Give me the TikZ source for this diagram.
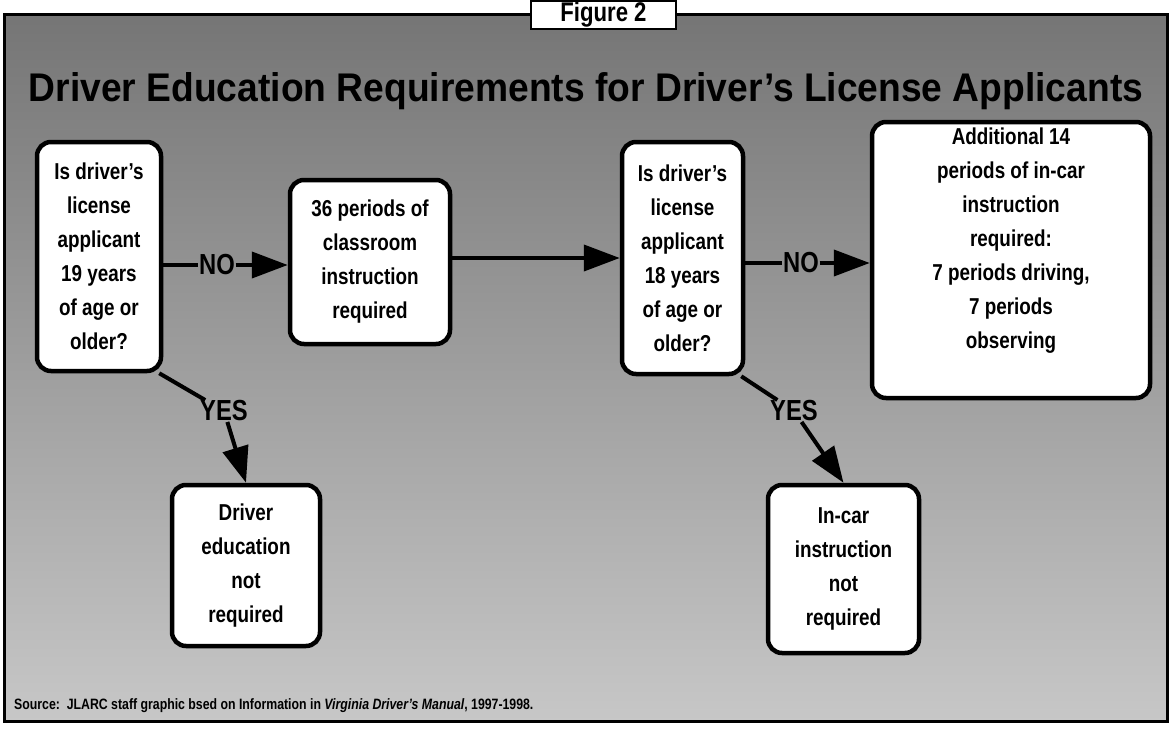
\documentclass[tikz,border=0pt]{standalone}
\usepackage{fontspec}
\setmainfont{Liberation Sans}
\newfontfamily\condfont{Liberation Sans}[FakeStretch=0.82]
\newfontfamily\titlefont{Liberation Sans}[FakeStretch=0.93]
\usetikzlibrary{arrows.meta}
\begin{document}
\begin{tikzpicture}[x=1pt,y=-1pt,
  box/.style={draw=black, line width=4.5pt, fill=white, rounded corners=14pt, align=center, inner sep=0pt,
    font=\condfont\bfseries\fontsize{23}{34}\selectfont},
  boxtext/.style={align=center, inner sep=0pt, font=\condfont\bfseries\fontsize{23}{34}\selectfont},
  lbl/.style={font=\condfont\bfseries\fontsize{29}{29}\selectfont, inner sep=0.5pt},
  conn/.style={line width=4pt},
  tip/.style={conn, -{Triangle[length=36pt,width=26pt]}}
]
\useasboundingbox (0,0) rectangle (1172,728);
\shade[top color=black!54, bottom color=black!22] (4,14) rectangle (1167,721);
\draw[line width=3pt] (4,14) rectangle (1167,721);
\node[draw, line width=2.5pt, fill=white, minimum width=145pt, minimum height=28pt, inner sep=0pt,
  font=\condfont\bfseries\fontsize{27}{27}\selectfont] (fig) at (603.5,15) {Figure 2};
\node[font=\titlefont\bfseries\fontsize{40}{40}\selectfont, inner sep=0pt] (title) at (586,91)
  {Driver Education Requirements for Driver’s License Applicants};

\node[box, minimum width=124pt, minimum height=229pt] (b1) at (99,256.5)
  {Is driver’s\\license\\applicant\\19 years\\of age or\\older?};
\node[box, minimum width=160pt, minimum height=164pt] (b2) at (370,262)
  {36 periods of\\classroom\\instruction\\required};
\node[box, minimum width=121pt, minimum height=232pt] (b3) at (682.5,258)
  {Is driver’s\\license\\applicant\\18 years\\of age or\\older?};
\node[box, minimum width=278pt, minimum height=276pt] (b4) at (1011,260) {};
\node[boxtext] (b4t) at (1011,241)
  {Additional 14\\periods of in-car\\instruction\\required:\\7 periods driving,\\7 periods\\observing};
\node[box, minimum width=148pt, minimum height=161pt] (b5) at (246,565.5)
  {Driver\\education\\not\\required};
\node[box, minimum width=151pt, minimum height=168pt] (b6) at (843.5,569)
  {In-car\\instruction\\not\\required};

\node[lbl] (no1) at (217,265) {NO};
\draw[conn] (b1.east |- no1) -- (no1.west);
\draw[tip] (no1.east) -- (no1 -| b2.west);
\draw[tip] (b2.east |- b3) -- (b3.west);
\node[lbl] (no2) at (801,263) {NO};
\draw[conn] (b3.east |- no2) -- (no2.west);
\draw[tip] (no2.east) -- (no2 -| b4.west);

\node[lbl] (yes1) at (224,411) {YES};
\draw[conn] ([xshift=-4pt]b1.south east) -- (yes1);
\draw[tip] (yes1) -- (b5.north);
\node[lbl] (yes2) at (794,411) {YES};
\draw[conn] ([xshift=-4pt]b3.south east) -- (yes2);
\draw[tip] (yes2) -- (b6.north);

\node[anchor=west, inner sep=0pt, font=\condfont\bfseries\fontsize{15}{15}\selectfont] (src) at (14,706)
  {Source:\ \ JLARC staff graphic bsed on Information in \textit{Virginia Driver’s Manual}, 1997-1998.};
\end{tikzpicture}
\end{document}
